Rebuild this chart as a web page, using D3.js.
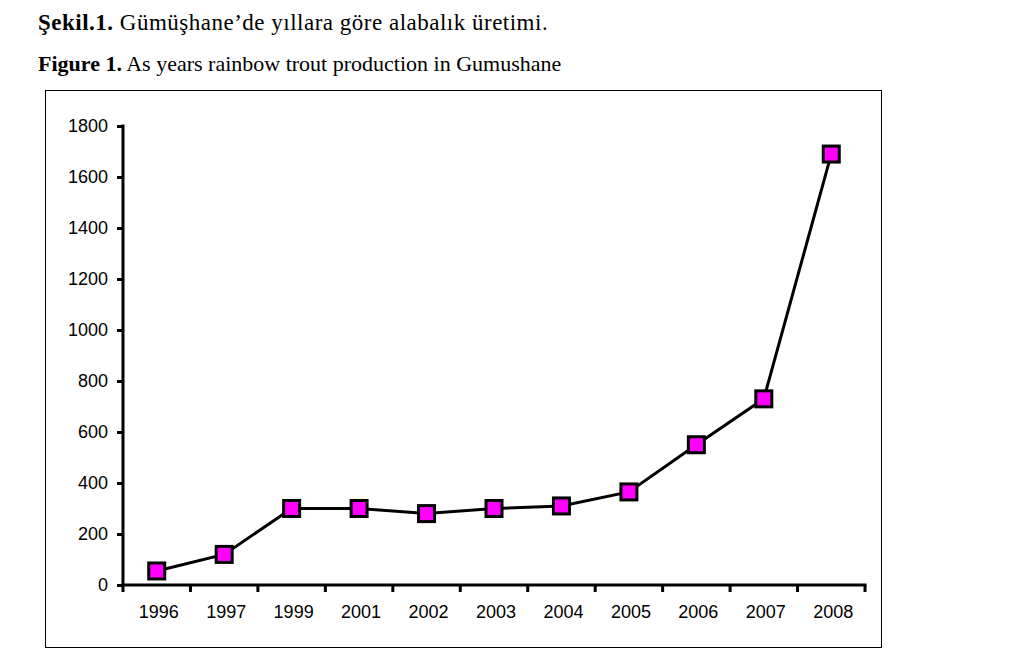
<!DOCTYPE html>
<html>
<head>
<meta charset="utf-8">
<script src="https://cdn.jsdelivr.net/npm/d3@7"></script>
<style>
  body { margin: 0; background: #fff; }
  svg { display: block; }
</style>
</head>
<body>
<svg id="chart" width="1034" height="662"></svg>
<script>
const years = ["1996","1997","1999","2001","2002","2003","2004","2005","2006","2007","2008"];
const production = [55, 120, 300, 300, 280, 300, 310, 365, 550, 730, 1690];
const yTicks = [0, 200, 400, 600, 800, 1000, 1200, 1400, 1600, 1800];
const titleTr = ["Şekil.1.", " Gümüşhane’de yıllara göre alabalık üretimi."];
const titleEn = ["Figure 1.", " As years rainbow trout production in Gumushane"];

(function () {
const svg = d3.select("#chart");

// titles
const t1 = svg.append("text").attr("x", 38).attr("y", 30)
  .attr("font-family", "Liberation Serif, Times New Roman, serif").attr("font-size", 23)
  .attr("letter-spacing", 0.5).attr("fill", "#000");
t1.append("tspan").attr("font-weight", "bold").text(titleTr[0]);
t1.append("tspan").text(titleTr[1]);
const t2 = svg.append("text").attr("x", 38).attr("y", 71)
  .attr("font-family", "Liberation Serif, Times New Roman, serif").attr("font-size", 22).attr("fill", "#000");
t2.append("tspan").attr("font-weight", "bold").text(titleEn[0]);
t2.append("tspan").text(titleEn[1]);

// frame
svg.append("rect").attr("x", 45.5).attr("y", 90.5).attr("width", 836).attr("height", 557)
  .attr("fill", "none").attr("stroke", "#000").attr("stroke-width", 1);

const pl = 123, pr = 865, pt = 126, pb = 585;
const x = d3.scaleBand().domain(years).range([pl, pr]).padding(0);
const y = d3.scaleLinear().domain([0, 1800]).range([pb, pt]);

// y axis
const yAxis = svg.append("g").attr("transform", `translate(${pl},0)`)
  .call(d3.axisLeft(y).tickValues(yTicks).tickSize(6).tickPadding(9).tickFormat(d3.format("d")));
yAxis.select(".domain").attr("stroke-width", 3).attr("d", `M0,${pb+1.5}V${pt-1.5}`);
yAxis.selectAll(".tick line").attr("stroke-width", 3);
yAxis.selectAll("text").attr("font-family", "Liberation Sans, Arial, sans-serif").attr("font-size", 18).attr("fill", "#000");

// x axis with ticks at category boundaries
const xg = svg.append("g").attr("transform", `translate(0,${pb})`);
xg.append("line").attr("x1", pl - 1.5).attr("x2", pr + 1.5).attr("y1", 0).attr("y2", 0)
  .attr("stroke", "#000").attr("stroke-width", 3);
const bounds = years.map(d => x(d)).concat([x(years[years.length-1]) + x.bandwidth()]);
xg.selectAll("line.tk").data(bounds).join("line").attr("class", "tk")
  .attr("x1", d => d).attr("x2", d => d).attr("y1", 0).attr("y2", 7)
  .attr("stroke", "#000").attr("stroke-width", 3);
xg.selectAll("text").data(years).join("text")
  .attr("x", d => x(d) + x.bandwidth() / 2 + 2).attr("y", 33)
  .attr("text-anchor", "middle")
  .attr("font-family", "Liberation Sans, Arial, sans-serif").attr("font-size", 18).attr("fill", "#000")
  .text(d => d);

// line
const pts = years.map((d, i) => [x(d) + x.bandwidth() / 2, y(production[i])]);
svg.append("path").attr("d", d3.line()(pts))
  .attr("fill", "none").attr("stroke", "#000").attr("stroke-width", 3);

// markers
const s = 16;
svg.selectAll("rect.mk").data(pts).join("rect").attr("class", "mk")
  .attr("x", d => d[0] - s / 2).attr("y", d => d[1] - s / 2)
  .attr("width", s).attr("height", s)
  .attr("fill", "#ff00ff").attr("stroke", "#000").attr("stroke-width", 3);
})();
</script>
</body>
</html>
